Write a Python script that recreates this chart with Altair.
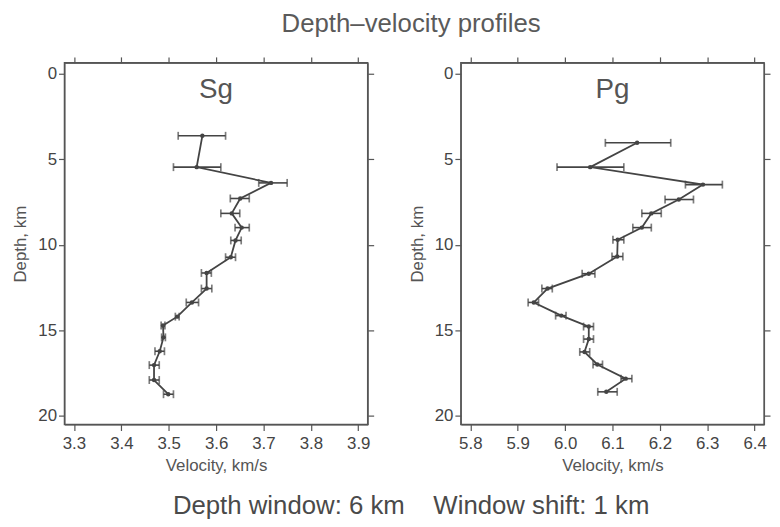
import altair as alt
import pandas as pd

FONT = "Liberation Sans"

# Sg profile
sg_depth = [3.64, 5.47, 6.39, 7.30, 8.17, 9.00, 9.75, 10.73, 11.65, 12.56, 13.37, 14.20, 14.72, 15.41, 16.22, 17.03, 17.90, 18.73]
sg_vel = [3.571, 3.559, 3.716, 3.651, 3.633, 3.654, 3.641, 3.631, 3.580, 3.580, 3.549, 3.518, 3.488, 3.489, 3.481, 3.469, 3.469, 3.499]
sg_lo = [3.520, 3.510, 3.690, 3.630, 3.610, 3.640, 3.631, 3.620, 3.569, 3.569, 3.537, 3.514, 3.484, 3.485, 3.471, 3.459, 3.459, 3.489]
sg_hi = [3.620, 3.610, 3.750, 3.670, 3.650, 3.670, 3.653, 3.641, 3.590, 3.591, 3.563, 3.522, 3.492, 3.493, 3.491, 3.480, 3.480, 3.510]

# Pg profile
pg_depth = [4.05, 5.47, 6.49, 7.36, 8.17, 9.00, 9.71, 10.69, 11.69, 12.56, 13.37, 14.14, 14.78, 15.51, 16.26, 16.99, 17.82, 18.59]
pg_vel = [6.152, 6.053, 6.291, 6.240, 6.182, 6.162, 6.111, 6.110, 6.050, 5.963, 5.934, 5.992, 6.050, 6.050, 6.041, 6.068, 6.128, 6.087]
pg_lo = [6.085, 5.983, 6.254, 6.211, 6.162, 6.143, 6.101, 6.099, 6.036, 5.951, 5.922, 5.980, 6.039, 6.039, 6.031, 6.059, 6.118, 6.069]
pg_hi = [6.223, 6.124, 6.332, 6.271, 6.203, 6.182, 6.124, 6.122, 6.063, 5.973, 5.944, 6.002, 6.060, 6.060, 6.052, 6.079, 6.141, 6.110]

sg_xticks = [3.3, 3.4, 3.5, 3.6, 3.7, 3.8, 3.9]
pg_xticks = [5.8, 5.9, 6.0, 6.1, 6.2, 6.3, 6.4]
depth_ticks = [0, 5, 10, 15, 20]

W, H = 306, 365
INK = "#444444"


def panel(name, depth, vel, lo, hi, xdom, xticks):
    df = pd.DataFrame({"depth": depth, "vel": vel, "lo": lo, "hi": hi})
    xs = alt.Scale(domain=xdom, nice=False, zero=False)
    ys = alt.Scale(domain=[-0.62, 20.5], nice=False, zero=False, reverse=True)
    base = alt.Chart(df)

    bars = base.mark_rule(color=INK, strokeWidth=1.6).encode(
        x=alt.X("lo:Q", scale=xs, title="Velocity, km/s",
                axis=alt.Axis(values=xticks, format=".1f", labelPadding=5, titlePadding=6)),
        x2="hi:Q",
        y=alt.Y("depth:Q", scale=ys, title="Depth, km",
                axis=alt.Axis(values=depth_ticks, labelPadding=2, titlePadding=8)),
    )
    cap_lo = base.mark_tick(orient="vertical", size=8, thickness=1.7, color=INK).encode(
        x=alt.X("lo:Q", scale=xs, axis=None), y=alt.Y("depth:Q", scale=ys, axis=None))
    cap_hi = base.mark_tick(orient="vertical", size=8, thickness=1.7, color=INK).encode(
        x=alt.X("hi:Q", scale=xs, axis=None), y=alt.Y("depth:Q", scale=ys, axis=None))
    line = base.mark_line(color=INK, strokeWidth=1.8).encode(
        x=alt.X("vel:Q", scale=xs, axis=None), y=alt.Y("depth:Q", scale=ys, axis=None),
        order="depth:Q")
    pts = base.mark_circle(color=INK, size=20, opacity=1).encode(
        x=alt.X("vel:Q", scale=xs, axis=None), y=alt.Y("depth:Q", scale=ys, axis=None))
    mirror = base.mark_point(opacity=0).encode(
        x=alt.X("vel:Q", scale=xs,
                axis=alt.Axis(orient="top", values=xticks, labels=False, title=None)),
        y=alt.Y("depth:Q", scale=ys,
                axis=alt.Axis(orient="right", values=depth_ticks, labels=False, title=None)),
    )
    label = alt.Chart(pd.DataFrame({"label": [name]})).mark_text(
        font=FONT, fontSize=28, color="#555", baseline="alphabetic", align="center"
    ).encode(text="label:N", x=alt.value(W / 2), y=alt.value(35))

    return alt.layer(bars, cap_lo, cap_hi, line, pts, mirror, label).resolve_axis(
        x="independent", y="independent"
    ).properties(width=W, height=H)


left = panel("Sg", sg_depth, sg_vel, sg_lo, sg_hi, [3.28, 3.92], sg_xticks)
right = panel("Pg", pg_depth, pg_vel, pg_lo, pg_hi, [5.78, 6.42], pg_xticks)

inner = alt.hconcat(left, right, spacing=32).properties(
    title=alt.TitleParams(
        text="Depth\u2013velocity profiles", fontSize=26, font=FONT, fontWeight="normal",
        color="#5a5a5a", anchor="middle", offset=19, dx=20,
    )
)

chart = alt.vconcat(inner).properties(
    title=alt.TitleParams(
        text="Depth window: 6 km\u00a0\u00a0\u00a0\u00a0Window shift: 1 km",
        orient="bottom", fontSize=26, font=FONT, fontWeight="normal",
        color="#4a4a4a", anchor="middle", offset=20, dx=20,
    ),
    padding={"left": 3, "top": 0, "right": 0, "bottom": 0},
).configure_view(
    stroke="#555", strokeWidth=1.5
).configure_axis(
    labelFont=FONT, labelFontSize=17, labelColor="#444",
    titleFont=FONT, titleFontSize=17, titleColor="#555", titleFontWeight="normal",
    tickColor="#555", domainColor="#555", tickSize=6, grid=False, tickWidth=1.2,
).configure_concat(spacing=0)

chart.save("out.html", embed_options={"renderer": "svg", "actions": False})
